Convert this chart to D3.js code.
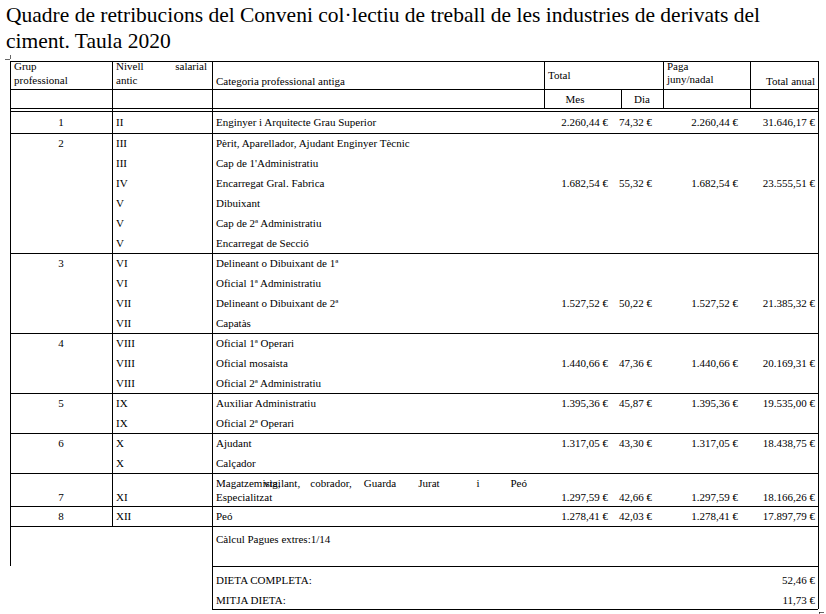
<!DOCTYPE html>
<html><head><meta charset="utf-8">
<script src="https://cdn.jsdelivr.net/npm/d3@7"></script>
<style>body{margin:0;background:#fff}text{font-family:"Liberation Serif","Times New Roman",serif;fill:#000}</style>
</head><body><svg id="c" width="826" height="614"></svg>
<script>
const grups = ["1","2","3","4","5","6","7","8"];
const nivells = [["II"],["III","III","IV","V","V","V"],["VI","VI","VII","VII"],["VIII","VIII","VIII"],["IX","IX"],["X","X"],["XI"],["XII"]];
const categories = [["Enginyer i Arquitecte Grau Superior"],
 ["Pèrit, Aparellador, Ajudant Enginyer Tècnic","Cap de 1'Administratiu","Encarregat Gral. Fabrica","Dibuixant","Cap de 2ª Administratiu","Encarregat de Secció"],
 ["Delineant o Dibuixant de 1ª","Oficial 1ª Administratiu","Delineant o Dibuixant de 2ª","Capatàs"],
 ["Oficial 1ª Operari","Oficial mosaista","Oficial 2ª Administratiu"],
 ["Auxiliar Administratiu","Oficial 2ª Operari"],
 ["Ajudant","Calçador"],
 ["Magatzemista, vigilant, cobrador, Guarda Jurat i Peó Especialitzat"],
 ["Peó"]];
const mes = ["2.260,44 €","1.682,54 €","1.527,52 €","1.440,66 €","1.395,36 €","1.317,05 €","1.297,59 €","1.278,41 €"];
const dia = ["74,32 €","55,32 €","50,22 €","47,36 €","45,87 €","43,30 €","42,66 €","42,03 €"];
const paga = ["2.260,44 €","1.682,54 €","1.527,52 €","1.440,66 €","1.395,36 €","1.317,05 €","1.297,59 €","1.278,41 €"];
const totalAnual = ["31.646,17 €","23.555,51 €","21.385,32 €","20.169,31 €","19.535,00 €","18.438,75 €","18.166,26 €","17.897,79 €"];
const valueRow = [0,2,2,1,0,0,0,0];
const dietes = [["DIETA COMPLETA:","52,46 €"],["MITJA DIETA:","11,73 €"]];

const svg = d3.select("#c");
const fs = 11;
const X = {l:10,n:112,c:212,m:544,d:621,p:663,t:750,r:818};
const y = d3.scaleLinear().domain([0,1]).range([0,20]); // row unit
const line=(x1,y1,x2,y2,w)=>svg.append("line").attr("x1",x1).attr("y1",y1).attr("x2",x2).attr("y2",y2).attr("stroke","#000").attr("stroke-width",w||1).attr("shape-rendering","crispEdges");
const txt=(s,xx,yy,anchor)=>svg.append("text").attr("x",xx).attr("y",yy).attr("font-size",fs).attr("text-anchor",anchor||"start").text(s);

svg.append("text").attr("x",6).attr("y",22).attr("font-size",21.5).text("Quadre de retribucions del Conveni col·lectiu de treball de les industries de derivats del");
svg.append("text").attr("x",6).attr("y",48).attr("font-size",21.5).text("ciment. Taula 2020");

txt("Grup",14,70);txt("professional",14,84);
txt("Nivell",116,70);txt("salarial",207,70,"end");txt("antic",116,84);
txt("Categoria professional antiga",216,85);
txt("Total",548,79);
txt("Paga",667,70);txt("juny/nadal",667,83);
txt("Total anual",815,85,"end");
txt("Mes",575,103,"middle");txt("Dia",642,103,"middle");

let curY=112; const bounds=[];
line(X.l,61,X.r,61);line(X.l,89,X.r,89);line(X.l,108,X.r,108);line(X.l,111,X.r,111);
grups.forEach((g,i)=>{
  const n = i===6 ? 1.65 : nivells[i].length;
  const h = i===0 ? 21 : y(n);
  const rowY = k => curY + y(k) + 14;
  let vy;
  if(i===6){
    const words=["Magatzemista,","vigilant,","cobrador,","Guarda","Jurat","i","Peó"];
    const xs=d3.scalePoint().domain(words.slice(1)).range([282,527]);
    txt(words[0],216,curY+14);
    words.slice(1).forEach(w=>txt(w,xs(w),curY+14,w==="Peó"?"end":"middle"));
    txt("Especialitzat",216,curY+28);
    vy = curY+28;
    txt(nivells[i][0],116,vy);
  } else {
    nivells[i].forEach((nv,k)=>{txt(nv,116,rowY(k));txt(categories[i][k],216,rowY(k));});
    vy = rowY(valueRow[i]);
  }
  txt(g,61,i===6?vy:rowY(0),"middle");
  txt(mes[i],608,vy,"end");txt(dia[i],652,vy,"end");
  txt(paga[i],738,vy,"end");txt(totalAnual[i],815,vy,"end");
  curY += h; bounds.push(curY);
  line(X.l,curY,X.r,curY);
});
const last = bounds[bounds.length-1];
txt("Càlcul Pagues extres:1/14",216,last+17);
const dTop = last+40;
line(X.c,dTop,X.r,dTop);
dietes.forEach((d,k)=>{const yy=dTop+18+k*20;txt(d[0],216,yy);txt(d[1],815,yy,"end");});
const bottom = dTop+43;
line(X.c,bottom,X.r,bottom);
line(X.l,61,X.l,dTop);line(X.n,61,X.n,last);line(X.c,61,X.c,bottom);line(X.r,61,X.r,bottom);
line(X.m,61,X.m,108);line(X.p,61,X.p,108);line(X.t,61,X.t,108);line(X.d,89,X.d,108);
line(5,59,10,59,0.6);line(10,55,10,59,0.6);
line(819,bottom+3,824,bottom+3,0.6);line(819,bottom+3,819,bottom+8,0.6);
</script></body></html>
